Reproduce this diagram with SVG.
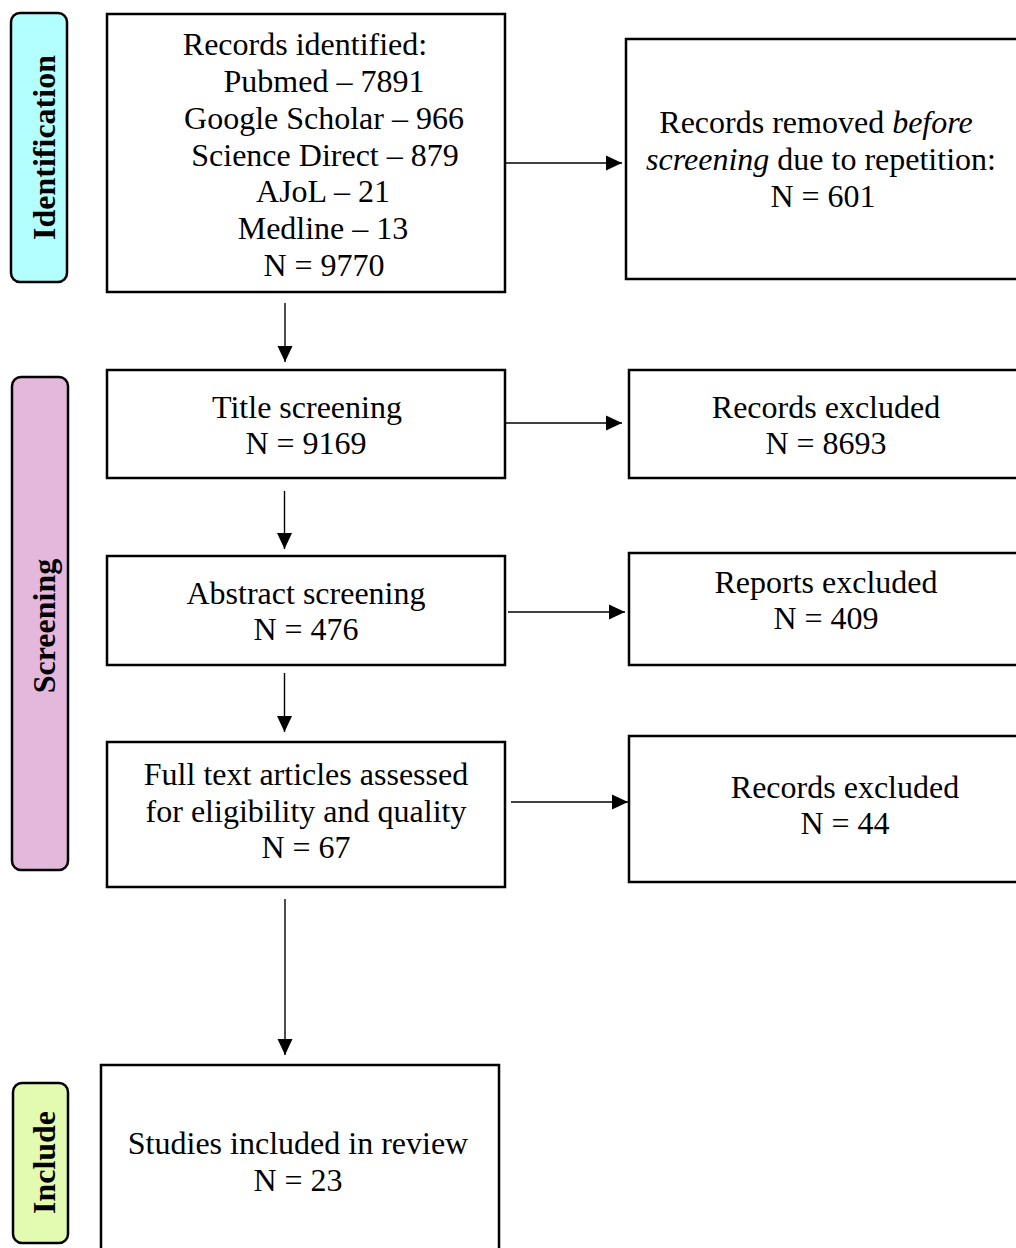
<svg xmlns="http://www.w3.org/2000/svg" width="1016" height="1248" viewBox="0 0 1016 1248">
<style>
.box{fill:#fff;stroke:#000;stroke-width:2.5}
.lbl{stroke:#000;stroke-width:2.5}
.t{font-family:"Liberation Serif","Times New Roman",serif;font-size:32px;fill:#000;text-anchor:middle}
.lt{font-family:"Liberation Serif","Times New Roman",serif;font-size:32px;font-weight:bold;fill:#000;text-anchor:middle}
.c{stroke:#000;stroke-width:1.4;fill:none;marker-end:url(#ah)}
</style>
<defs>
<marker id="ah" markerUnits="userSpaceOnUse" markerWidth="17" markerHeight="16" refX="16" refY="8" orient="auto">
<path d="M0,0.5 L16,8 L0,15.5 z" fill="#000"/>
</marker>
</defs>
<rect width="1016" height="1248" fill="#fff"/>

<g id="label-identification">
<rect class="lbl" x="11" y="13" width="56" height="269" rx="9" fill="#B3FFFF"/>
<text class="lt" transform="translate(55,147.5) rotate(-90)">Identification</text>
</g>
<g id="label-screening">
<rect class="lbl" x="12" y="377" width="56" height="493" rx="9" fill="#E4B8DC"/>
<text class="lt" transform="translate(55,626) rotate(-90)">Screening</text>
</g>
<g id="label-include">
<rect class="lbl" x="13" y="1083" width="55" height="160" rx="9" fill="#E2FBB0"/>
<text class="lt" transform="translate(55,1162.5) rotate(-90)">Include</text>
</g>

<g id="connectors">
<line class="c" x1="505" y1="163" x2="622" y2="163"/>
<line class="c" x1="285" y1="303" x2="285" y2="362"/>
<line class="c" x1="505" y1="423" x2="622" y2="423"/>
<line class="c" x1="284.5" y1="491" x2="284.5" y2="549"/>
<line class="c" x1="508" y1="612" x2="625" y2="612"/>
<line class="c" x1="284.5" y1="673" x2="284.5" y2="732"/>
<line class="c" x1="511" y1="802" x2="628" y2="802"/>
<line class="c" x1="285" y1="899" x2="285" y2="1055"/>
</g>

<g id="node-identified">
<rect class="box" x="107" y="14" width="398" height="278"/>
<text class="t" x="305" y="55">Records identified:</text>
<text class="t" x="324" y="92">Pubmed – 7891</text>
<text class="t" x="324" y="129">Google Scholar – 966</text>
<text class="t" x="325" y="166">Science Direct – 879</text>
<text class="t" x="323" y="202">AJoL – 21</text>
<text class="t" x="323" y="239">Medline – 13</text>
<text class="t" x="324" y="276">N = 9770</text>
</g>

<g id="node-removed">
<rect class="box" x="626" y="39" width="400" height="240"/>
<text class="t" x="816" y="133">Records removed <tspan font-style="italic">before</tspan></text>
<text class="t" x="821" y="170"><tspan font-style="italic">screening</tspan> due to repetition:</text>
<text class="t" x="823" y="207">N = 601</text>
</g>

<g id="node-title">
<rect class="box" x="107" y="370" width="398" height="108"/>
<text class="t" x="307" y="418">Title screening</text>
<text class="t" x="306" y="454">N = 9169</text>
</g>

<g id="node-records-excluded-1">
<rect class="box" x="629" y="370" width="400" height="108"/>
<text class="t" x="826" y="418">Records excluded</text>
<text class="t" x="826" y="454">N = 8693</text>
</g>

<g id="node-abstract">
<rect class="box" x="107" y="556" width="398" height="109"/>
<text class="t" x="306" y="604">Abstract screening</text>
<text class="t" x="306" y="640">N = 476</text>
</g>

<g id="node-reports-excluded">
<rect class="box" x="629" y="553" width="400" height="112"/>
<text class="t" x="826" y="593">Reports excluded</text>
<text class="t" x="826" y="629">N = 409</text>
</g>

<g id="node-fulltext">
<rect class="box" x="107" y="742" width="398" height="145"/>
<text class="t" x="306" y="785">Full text articles assessed</text>
<text class="t" x="306" y="822">for eligibility and quality</text>
<text class="t" x="306" y="858">N = 67</text>
</g>

<g id="node-records-excluded-2">
<rect class="box" x="629" y="736" width="400" height="146"/>
<text class="t" x="845" y="798">Records excluded</text>
<text class="t" x="845" y="834">N = 44</text>
</g>

<g id="node-included">
<rect class="box" x="101" y="1065" width="398" height="200"/>
<text class="t" x="298" y="1154">Studies included in review</text>
<text class="t" x="298" y="1191">N = 23</text>
</g>
</svg>
